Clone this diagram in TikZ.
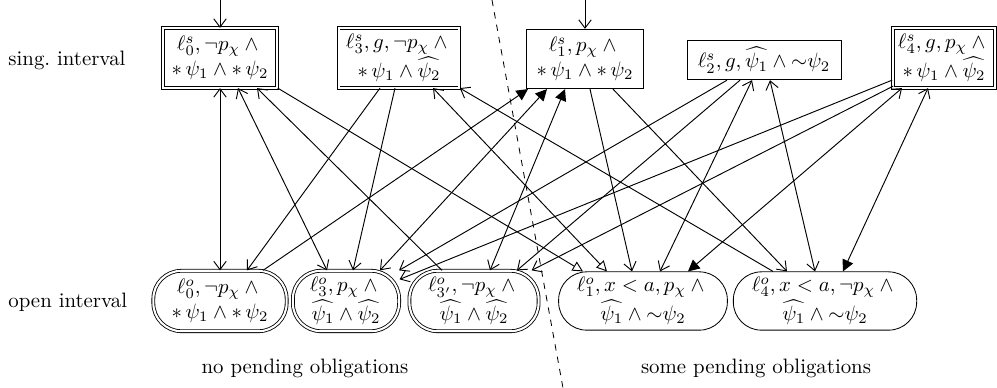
\documentclass[tikz,border=0pt]{standalone}
\usetikzlibrary{arrows.meta,calc,shapes.misc}
\begin{document}
\begin{tikzpicture}[x=0.48pt,y=-0.48pt,
  tipO/.tip={Straight Barb[length=4pt,width=6pt]},
  tipH/.tip={Triangle[open,length=5pt,width=5pt]},
  tipF/.tip={Triangle[length=5.5pt,width=5.5pt]},
  snode/.style={draw,rectangle,align=center,inner sep=2.5pt,minimum height=28.5pt},
  dsnode/.style={snode,double,double distance=1pt},
  onode/.style={draw,rectangle,rounded corners=13.5pt,align=center,inner sep=2.5pt,minimum height=28pt},
  donode/.style={onode,double,double distance=1pt,minimum height=29pt},
  lbl/.style={anchor=west,inner sep=0pt},
  conn/.style={line width=0.45pt}]
\useasboundingbox (0,0) rectangle (997,388);

% singular interval nodes
\node[dsnode,minimum width=55pt] (s0) at (220,58) {$\ell^s_0, \neg p_\chi \wedge{}$\\$\mathord{*}\,\psi_1 \wedge \mathord{*}\,\psi_2$};
\node[dsnode,minimum width=58pt] (s3) at (399,58) {$\ell^s_3, g, \neg p_\chi \wedge{}$\\$\mathord{*}\,\psi_1 \wedge \widehat{\psi_2}$};
\node[snode,minimum width=56pt] (s1) at (585,59) {$\ell^s_1, p_\chi \wedge{}$\\$\mathord{*}\,\psi_1 \wedge \mathord{*}\,\psi_2$};
\node[snode,minimum height=19pt,minimum width=74pt] (s2) at (764,60) {$\ell^s_2, g, \widehat{\psi_1} \wedge {\sim}\psi_2$};
\node[dsnode,minimum width=49pt] (s4) at (944,58) {$\ell^s_4, g, p_\chi \wedge{}$\\$\mathord{*}\,\psi_1 \wedge \widehat{\psi_2}$};

% open interval nodes
\node[donode,minimum width=64pt] (o0) at (220,301) {$\ell^o_0, \neg p_\chi \wedge{}$\\$\mathord{*}\,\psi_1 \wedge \mathord{*}\,\psi_2$};
\node[donode,minimum width=51pt] (o3) at (346,301) {$\ell^o_3, p_\chi \wedge{}$\\$\widehat{\psi_1} \wedge \widehat{\psi_2}$};
\node[donode,minimum width=62pt] (o3p) at (474,301) {$\ell^o_{3'}, \neg p_\chi \wedge{}$\\$\widehat{\psi_1} \wedge \widehat{\psi_2}$};
\node[onode,minimum width=81pt] (o1) at (643,301) {$\ell^o_1, x < a, p_\chi \wedge{}$\\$\widehat{\psi_1} \wedge {\sim}\psi_2$};
\node[onode,minimum width=88pt] (o4) at (825,301) {$\ell^o_4, x < a, \neg p_\chi \wedge{}$\\$\widehat{\psi_1} \wedge {\sim}\psi_2$};

% labels
\node[lbl] (lsing) at (8,60) {sing.\ interval};
\node[lbl] (lopen) at (8,302) {open interval};
\node (lno) at (305,368) {no pending obligations};
\node (lsome) at (756,368) {some pending obligations};

% dashed separator
\coordinate (d1) at (492,0);
\coordinate (d2) at (563,388);
\draw[dashed] (d1) -- (d2);

% initial arrows
\coordinate (i0) at (220,0);
\coordinate (i1) at (585,0);
\draw[conn,-tipO] (i0) -- (s0.north);
\draw[conn,-tipO] (i1) -- (s1.north);

% edges
\draw[conn,tipO-tipO] (s0.south) -- (o0.north);
\draw[conn,tipO-tipO] ($(s0.south)+(18,0)$) -- ($(o3.north)+(-19,0)$);
\draw[conn,-tipO] ($(o3p.north)+(-32,0)$) -- ($(s0.south)+(37,0)$);
\draw[conn,-tipH] (s0.south east) -- ($(o1.north)+(-60,0)$);

\draw[conn,-tipO] ($(s3.south)+(-19,0)$) -- ($(o0.north)+(27,0)$);
\draw[conn,-tipO] ($(s3.south)+(-4,0)$) -- ($(o3.north)+(7,0)$);
\draw[conn,tipO-tipH] ($(s3.south)+(34,0)$) -- ($(o1.north)+(-36,0)$);
\draw[conn,-tipO] ($(o4.north)+(-52,0)$) -- (s3.south east);

\draw[conn,-tipF] ($(o0.north)+(43,0)$) -- ($(s1.south)+(-57,0)$);
\draw[conn,tipF-tipO] ($(s1.south)+(-38,0)$) -- ($(o3.north)+(34,0)$);
\draw[conn,tipF-tipO] ($(s1.south)+(-20,0)$) -- ($(o3p.north)+(16,0)$);
\draw[conn,-tipO] ($(s1.south)+(5,0)$) -- ($(o1.north)+(-11,0)$);
\draw[conn,-tipO] ($(s1.south)+(28,0)$) -- ($(o4.north)+(-38,0)$);

\draw[conn,-tipO] ($(s2.south)+(-37,0)$) -- (o3.30);
\draw[conn,-tipO] ($(s2.south)+(-24,0)$) -- ($(o3p.north)+(43,0)$);
\draw[conn,tipO-tipO] ($(s2.south)+(-12,0)$) -- ($(o1.north)+(17,0)$);
\draw[conn,tipO-tipO] ($(s2.south)+(6,0)$) -- ($(o4.north)+(-10,0)$);

\draw[conn,-tipO] ($(s4.south west)+(0,-8)$) -- (o3.22);
\draw[conn,-tipO] ($(s4.south west)+(1,-2)$) -- (o3p.28);
\draw[conn,tipO-tipF] ($(s4.south)+(-42,0)$) -- ($(o1.north)+(45,0)$);
\draw[conn,tipO-tipF] ($(s4.south)+(-16,0)$) -- ($(o4.north)+(18,0)$);
\end{tikzpicture}
\end{document}
